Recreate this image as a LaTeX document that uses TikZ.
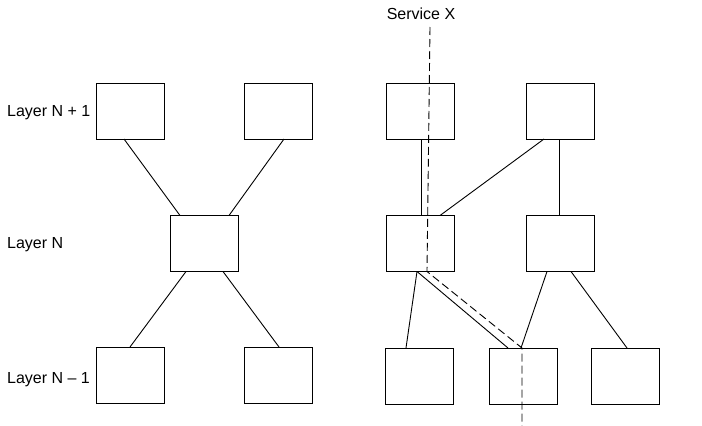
\documentclass[tikz,border=0pt]{standalone}
\usepackage{fontspec}
\setmainfont{Liberation Sans}
\begin{document}
\begin{tikzpicture}[x=1pt,y=-1pt,
  box/.style={draw,line width=1pt,minimum width=68pt,minimum height=56pt,inner sep=0pt,outer sep=0pt},
  link/.style={line width=0.9pt},
  svc/.style={line width=0.9pt,dash pattern=on 8pt off 4pt},
  lbl/.style={font=\fontsize{16}{19}\selectfont,inner sep=0pt,anchor=base west}]
\useasboundingbox (0,0) rectangle (702,426);
% left group
\node[box] (a1) at (130.5,111) {};
\node[box] (a2) at (278.5,111) {};
\node[box] (am) at (204,243.5) {};
\node[box] (a3) at (130.5,375) {};
\node[box] (a4) at (278.5,375) {};
% right group
\node[box] (b1) at (420,111) {};
\node[box] (b2) at (560,111) {};
\node[box] (bc) at (420,243.5) {};
\node[box] (bd) at (560,243.5) {};
\node[box] (e) at (419.5,376) {};
\node[box] (f) at (523,376) {};
\node[box] (g) at (625,376) {};
% labels
\node[lbl] (l1) at (7,116) {Layer N + 1};
\node[lbl] (l2) at (7,248) {Layer N};
\node[lbl] (l3) at (7,383) {Layer N – 1};
\node[lbl,anchor=base] (sx) at (421,19) {Service X};
% left connectors
\draw[link] ([xshift=-6.5pt]a1.south) -- ([xshift=-24pt]am.north);
\draw[link] ([xshift=5.5pt]a2.south) -- ([xshift=25pt]am.north);
\draw[link] ([xshift=-18pt]am.south) -- ([xshift=-0.5pt]a3.north);
\draw[link] ([xshift=19pt]am.south) -- ([xshift=0.5pt]a4.north);
% right connectors
\draw[link] ([xshift=1pt]b1.south) -- ([xshift=1pt]bc.north);
\draw[link] ([xshift=-16pt]b2.south) -- ([xshift=20pt]bc.north);
\draw[link] ([xshift=-1pt]b2.south) -- ([xshift=-1pt]bd.north);
\draw[link] ([xshift=-3pt]bc.south) -- ([xshift=-13.5pt]e.north);
\draw[link] ([xshift=-3pt]bc.south) -- ([xshift=-15pt]f.north);
\draw[link] ([xshift=-13pt]bd.south) -- ([xshift=-2pt]f.north);
\draw[link] ([xshift=11pt]bd.south) -- ([xshift=2pt]g.north);
% service X path
\coordinate (s0) at (430,27);
\coordinate (s1) at (522,426);
\draw[svc] (s0) -- ([xshift=7pt]bc.south) -- ([xshift=-1pt]f.north) -- (s1);
\end{tikzpicture}
\end{document}
